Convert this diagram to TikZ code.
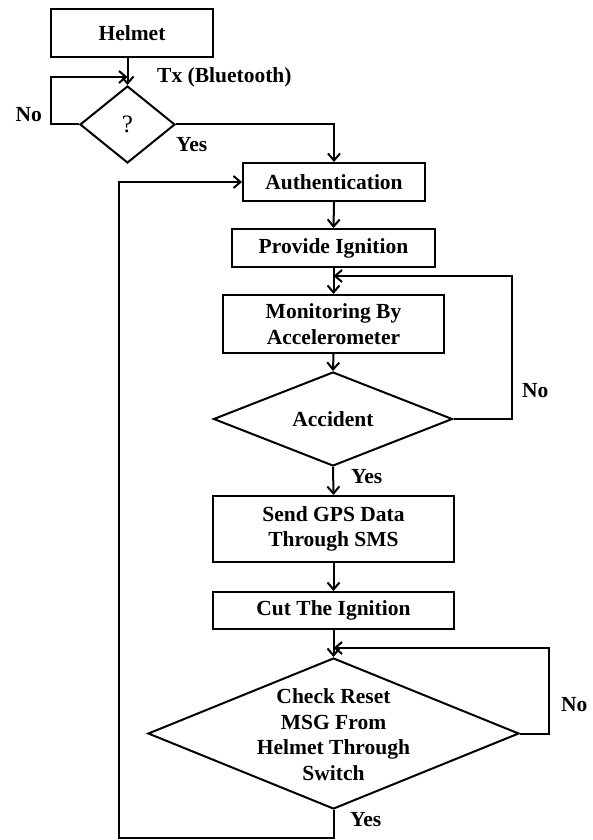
\documentclass[tikz,border=0pt]{standalone}
\usepackage{fontspec}
\setmainfont{Liberation Serif}
\usetikzlibrary{shapes.geometric,arrows.meta}
\begin{document}
\begin{tikzpicture}[x=1pt,y=-1pt,
  every node/.style={font=\fontsize{21.5}{25.7}\selectfont\bfseries},
  box/.style={draw, line width=2pt, rectangle, inner sep=0pt, align=center},
  dia/.style={draw, line width=2pt, diamond, inner sep=0pt},
  conn/.style={line width=2pt},
  arr/.style={conn, -{Straight Barb[length=7pt,width=12pt,line width=2pt]}},
  lbl/.style={inner sep=0pt, align=center}]
\useasboundingbox (0,0) rectangle (592,840);
% boxes
\node[box, minimum width=162pt, minimum height=48pt] (helmet) at (132,33) {Helmet};
\node[dia, minimum width=95pt, minimum height=77pt] (q) at (127.5,124.5) {};
\node[lbl, font=\fontsize{25}{28}\selectfont\mdseries] (qt) at (q) {?};
\node[box, minimum width=182pt, minimum height=38pt] (auth) at (334,182) {Authentication};
\node[box, minimum width=203pt, minimum height=38pt] (ign) at (333.5,248) {Provide Ignition};
\node[box, minimum width=221pt, minimum height=58pt] (mon) at (333.5,324) {Monitoring By\\Accelerometer};
\node[dia, minimum width=239pt, minimum height=94pt] (acc) at (333,419) {};
\node[lbl] (acct) at (acc) {Accident};
\node[box, minimum width=241pt, minimum height=66pt] (gps) at (333.5,529) {Send GPS Data\\Through SMS};
\node[box, minimum width=241pt, minimum height=37pt] (cut) at (333.5,610.5) {Cut The Ignition};
\node[dia, minimum width=371pt, minimum height=151pt] (chk) at (333.5,733.5) {};
\node[lbl] (chkt) at (333.5,734.5) {Check Reset\\MSG From\\Helmet Through\\Switch};
% labels
\node[lbl, anchor=west] (tx) at (157,77) {Tx (Bluetooth)};
\node[lbl, anchor=east] (no1) at (42,115) {No};
\node[lbl, anchor=west] (yes1) at (176,145) {Yes};
\node[lbl, anchor=west] (no2) at (522,391) {No};
\node[lbl, anchor=west] (yes2) at (351,477) {Yes};
\node[lbl, anchor=west] (no3) at (561,705) {No};
\node[lbl, anchor=west] (yes3) at (350,820) {Yes};
% coordinates
\coordinate (c1) at (51,77);
\coordinate (j1) at (127.5,77);
\coordinate (c2) at (512,276);
\coordinate (j2) at (333.5,276);
\coordinate (c3) at (549,648);
\coordinate (j3) at (333.5,648);
\coordinate (c5) at (119,838);
% connectors
\draw[arr] (helmet.south -| q.north) -- (q.north);
\draw[arr] (q.west) -| (c1) -- (j1);
\draw[arr] (q.east) -| (auth.north);
\draw[arr] (auth.south) -- (ign.north);
\draw[arr] (ign.south -| mon.north) -- (mon.north);
\draw[arr] (acc.east) -| (c2) -- (j2);
\draw[arr] (mon.south) -- (acc.north);
\draw[arr] (acc.south) -- (gps.north);
\draw[arr] (gps.south) -- (cut.north);
\draw[arr] (cut.south) -- (chk.north);
\draw[arr] (chk.east) -| (c3) -- (j3);
\draw[arr] (chk.south) |- (c5) |- (auth.west);
\end{tikzpicture}
\end{document}
